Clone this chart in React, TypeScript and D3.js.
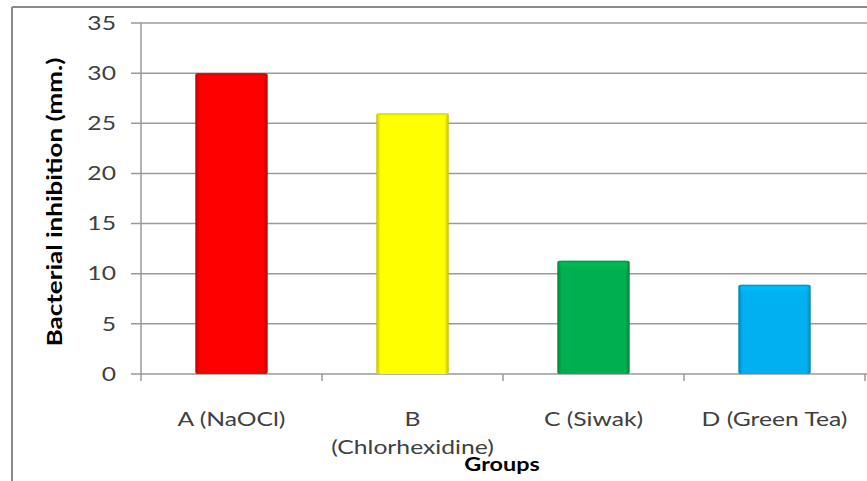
import React from "react";
import * as d3 from "d3";

const groups = ["A (NaOCl)", "B (Chlorhexidine)", "C (Siwak)", "D (Green Tea)"];
const groupLabels = [["A (NaOCl)"], ["B", "(Chlorhexidine)"], ["C (Siwak)"], ["D (Green Tea)"]];
const inhibition = [30, 26, 11.3, 8.9];
const barColors = ["#ff0000", "#ffff00", "#00b050", "#00b0f0"];
const yTicks = [0, 5, 10, 15, 20, 25, 30, 35];

const W = 867;
const H = 481;
const font = "Lato, 'Open Sans', sans-serif";
const stretch = 1.3; // text in the picture is wider than Lato

function Label({
  x,
  y,
  anchor = "middle",
  size = 19,
  bold = false,
  fill = "#404040",
  rotate = 0,
  children,
}: {
  x: number;
  y: number;
  anchor?: string;
  size?: number;
  bold?: boolean;
  fill?: string;
  rotate?: number;
  children: React.ReactNode;
}) {
  return (
    <text
      transform={`translate(${x},${y}) rotate(${rotate}) scale(${stretch},1)`}
      textAnchor={anchor}
      dy="0.35em"
      fontFamily={font}
      fontSize={size}
      fontWeight={bold ? "bold" : "normal"}
      fill={fill}
    >
      {children}
    </text>
  );
}

export default function App() {
  const x = d3
    .scaleBand<string>()
    .domain(groups)
    .range([141, 865])
    .paddingInner(0.6)
    .paddingOuter(0.3);
  const y = d3.scaleLinear().domain([0, 35]).range([374, 23]);
  const step = x.step();

  return (
    <svg
      width={W}
      height={H}
      style={{ position: "absolute", left: 0, top: 0, background: "#fff" }}
    >
      <defs>
        {barColors.map((c, i) => {
          const dark = d3.color(c)!.darker(0.8).formatHex();
          const light = d3.color(c)!.brighter(0.4).formatHex();
          return (
            <React.Fragment key={i}>
              <linearGradient id={`h${i}`} x1="0" x2="1" y1="0" y2="0">
                <stop offset="0" stopColor={dark} />
                <stop offset="0.06" stopColor={c} />
                <stop offset="0.94" stopColor={c} />
                <stop offset="1" stopColor={dark} />
              </linearGradient>
              <linearGradient id={`v${i}`} x1="0" x2="0" y1="0" y2="1">
                <stop offset="0" stopColor={dark} stopOpacity={0.7} />
                <stop offset="0.3" stopColor={light} stopOpacity={0.5} />
                <stop offset="1" stopColor={c} stopOpacity={0} />
              </linearGradient>
            </React.Fragment>
          );
        })}
      </defs>

      {/* outer frame */}
      <line x1={12} x2={W} y1={7} y2={7} stroke="#8a8a8a" strokeWidth={2} />
      <line x1={12} x2={12} y1={7} y2={H} stroke="#8a8a8a" strokeWidth={2} />

      {/* gridlines + y ticks */}
      {yTicks.map((t) => (
        <g key={t}>
          <line
            x1={131}
            x2={W}
            y1={y(t)}
            y2={y(t)}
            stroke="#9a9a9a"
            strokeWidth={1.5}
          />
          <Label x={116} y={y(t)} anchor="end">
            {t}
          </Label>
        </g>
      ))}
      <line x1={141} x2={141} y1={y(35)} y2={y(0)} stroke="#9a9a9a" strokeWidth={1.5} />

      {/* x ticks */}
      {d3.range(groups.length + 1).map((i) => (
        <line
          key={i}
          x1={141 + step * i}
          x2={141 + step * i}
          y1={y(0)}
          y2={y(0) + 7}
          stroke="#9a9a9a"
          strokeWidth={1.5}
        />
      ))}

      {/* bars */}
      {groups.map((g, i) => (
        <g key={g}>
          <rect
            x={x(g)}
            y={y(inhibition[i])}
            width={x.bandwidth()}
            height={y(0) - y(inhibition[i])}
            fill={`url(#h${i})`}
            rx={2}
          />
          <rect
            x={x(g)! + 2}
            y={y(inhibition[i])}
            width={x.bandwidth() - 4}
            height={10}
            fill={`url(#v${i})`}
            rx={2}
          />
        </g>
      ))}

      {/* category labels */}
      {groups.map((g, i) =>
        groupLabels[i].map((line, j) => (
          <Label key={g + j} x={x(g)! + x.bandwidth() / 2} y={419 + j * 28}>
            {line}
          </Label>
        ))
      )}

      <Label x={502} y={465} size={18} bold fill="#000">
        Groups
      </Label>

      <Label x={55} y={202} size={20} bold fill="#000" rotate={-90}>
        Bacterial inhibition (mm.)
      </Label>
    </svg>
  );
}
